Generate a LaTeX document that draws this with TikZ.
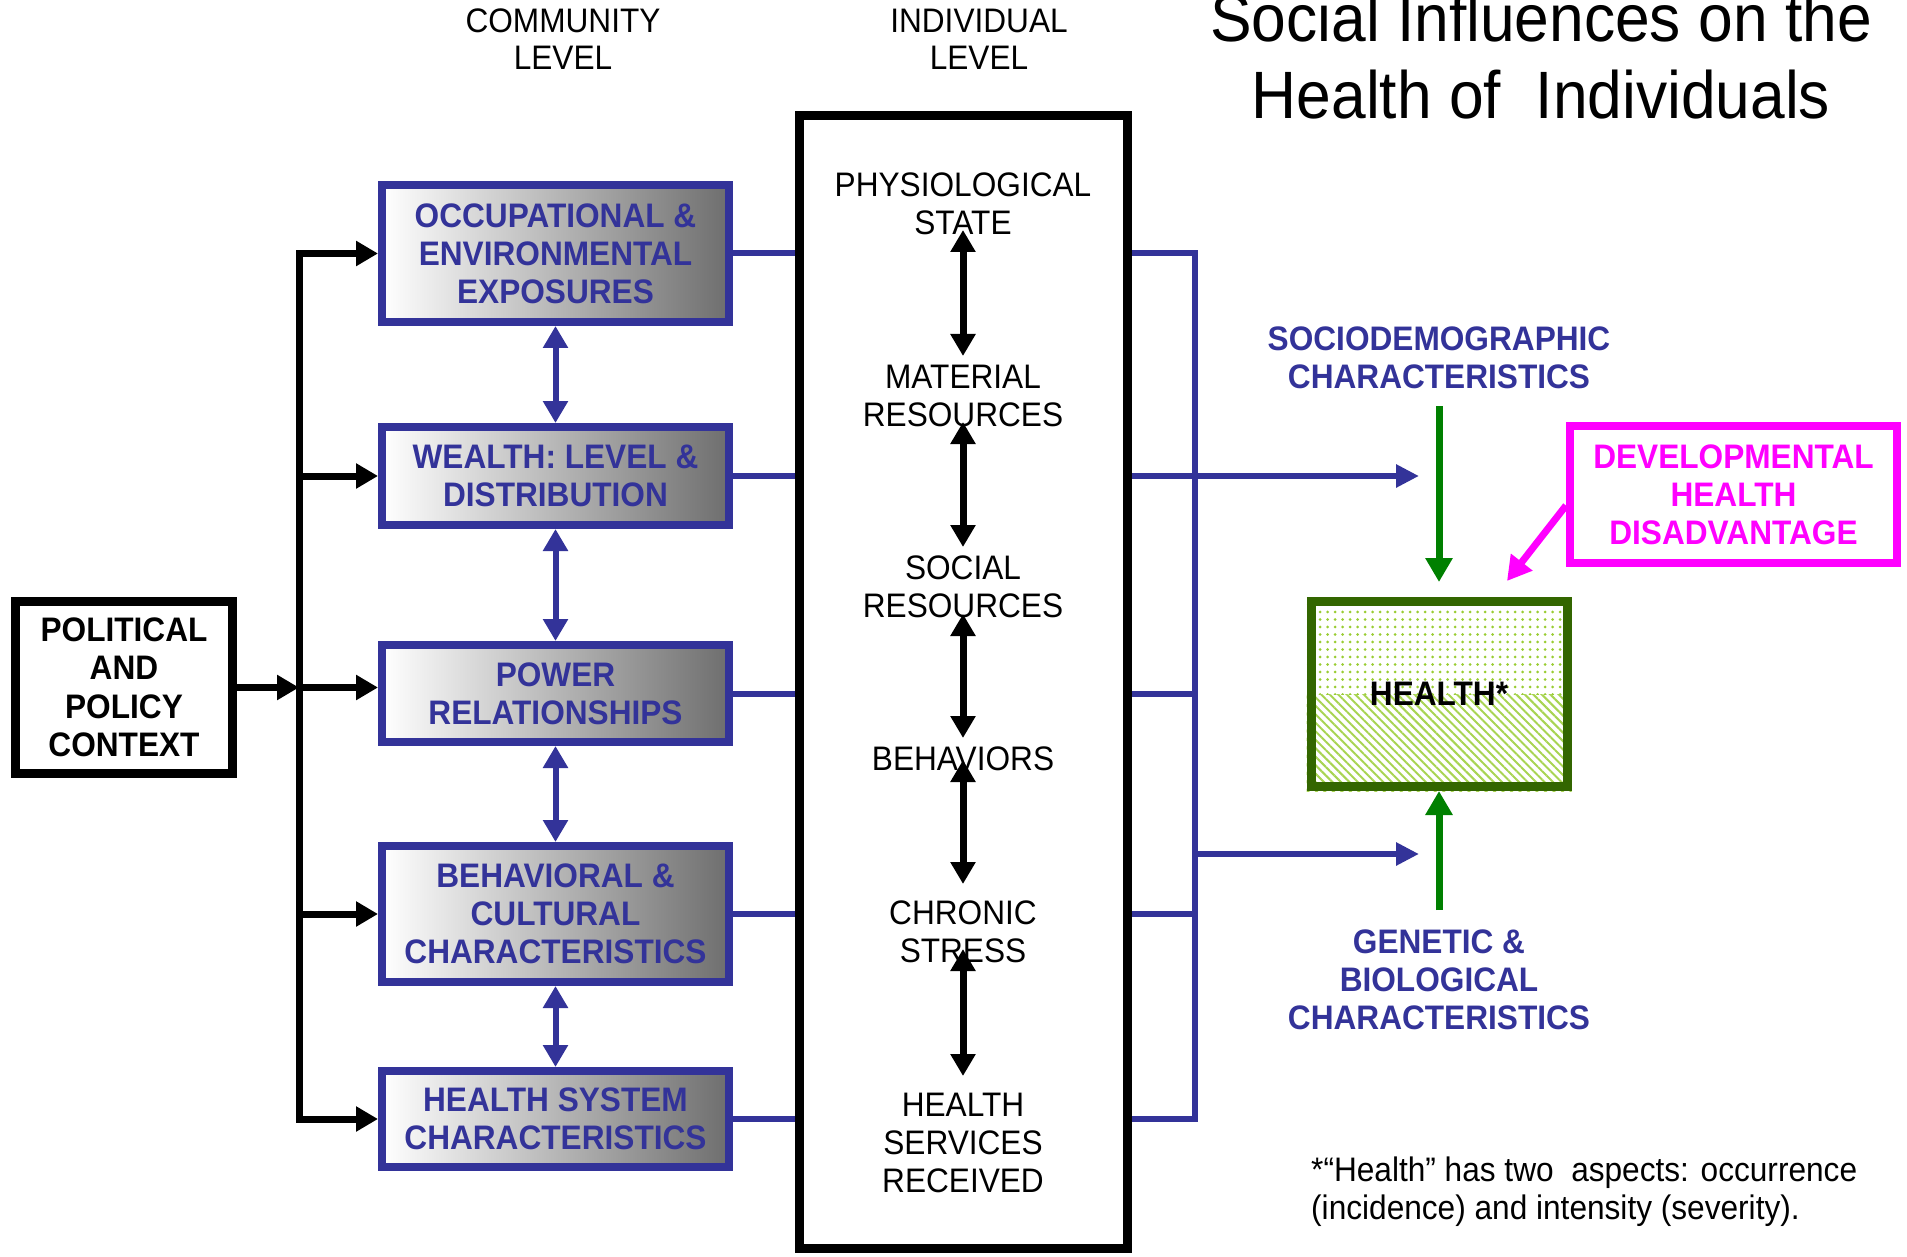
\documentclass[tikz,border=0pt]{standalone}
\usepackage{fontspec}
\setmainfont[FakeStretch=0.93]{Liberation Sans}
\usetikzlibrary{arrows.meta,patterns.meta,calc,backgrounds}
\definecolor{cblue}{HTML}{333399}
\definecolor{cgreen}{HTML}{008000}
\definecolor{hgreen}{HTML}{336600}
\definecolor{lgreen}{HTML}{99CC33}
\definecolor{cmag}{HTML}{FF00FF}
\definecolor{cgray}{HTML}{6E6E6E}
\begin{document}
\begin{tikzpicture}[x=1pt,y=-1pt,
  txt/.style={font=\fontsize{34}{38}\selectfont, align=center, inner sep=0pt},
  btxt/.style={font=\fontsize{34}{38}\selectfont\bfseries, align=center, inner sep=0pt},
  commbox/.style={draw=cblue, line width=8pt, left color=white, right color=cgray,
    text=cblue, font=\fontsize{34}{38}\selectfont\bfseries, align=center,
    inner sep=0pt, minimum width=347pt},
  blkline/.style={draw=black, line width=7pt, line cap=rect},
  blkarrow/.style={draw=black, line width=7pt, -{Triangle[length=22pt,width=24pt]}},
  blkdbl/.style={draw=black, line width=7pt, {Triangle[length=22pt,width=24pt]}-{Triangle[length=22pt,width=24pt]}},
  blueline/.style={draw=cblue, line width=6pt},
  bluearrow/.style={draw=cblue, line width=6pt, -{Triangle[length=23pt,width=22pt]}},
  bluedbl/.style={draw=cblue, line width=6pt, {Triangle[length=22pt,width=24pt]}-{Triangle[length=22pt,width=24pt]}},
  greenarrow/.style={draw=cgreen, line width=7pt, -{Triangle[length=24pt,width=26pt]}},
  magarrow/.style={draw=cmag, line width=7pt, -{Triangle[length=24pt,width=26pt]}}
]
\path[use as bounding box] (0,0) rectangle (1907,1257);

% title and headers
\node[font=\fontsize{67}{77}\selectfont, align=center, inner sep=0pt] (title) at (1541,56.5)
  {Social Influences on the\\Health of\ \ Individuals};
\node[font=\fontsize{34}{37}\selectfont, align=center, inner sep=0pt] (hcomm) at (563,39) {COMMUNITY\\LEVEL};
\node[font=\fontsize{34}{37}\selectfont, align=center, inner sep=0pt] (hind) at (979,39) {INDIVIDUAL\\LEVEL};

% political box
\node[draw=black, line width=9pt, minimum width=217pt, minimum height=172pt, inner sep=0pt,
  font=\fontsize{34}{38.5}\selectfont\bfseries, align=center] (pol) at (124,687.5)
  {POLITICAL\\AND\\POLICY\\CONTEXT};

% community boxes
\node[commbox, minimum height=137pt] (occ) at (555.5,253.5) {OCCUPATIONAL \&\\ENVIRONMENTAL\\EXPOSURES};
\node[commbox, minimum height=98pt] (wealth) at (555.5,476) {WEALTH: LEVEL \&\\DISTRIBUTION};
\node[commbox, minimum height=97pt] (power) at (555.5,693.5) {POWER\\RELATIONSHIPS};
\node[commbox, minimum height=136pt] (behav) at (555.5,914) {BEHAVIORAL \&\\CULTURAL\\CHARACTERISTICS};
\node[commbox, minimum height=96pt] (hsys) at (555.5,1119) {HEALTH SYSTEM\\CHARACTERISTICS};

% individual box
\node[draw=black, line width=9pt, minimum width=328pt, minimum height=1133pt, inner sep=0pt] (indiv) at (963.5,682) {};
\node[txt] (phys) at (963,203.5) {PHYSIOLOGICAL\\STATE};
\node[txt] (mat) at (963,396) {MATERIAL\\RESOURCES};
\node[txt] (soc) at (963,587) {SOCIAL\\RESOURCES};
\node[txt] (beh) at (963,759) {BEHAVIORS};
\node[txt] (chr) at (963,932) {CHRONIC\\STRESS};
\node[txt] (hs) at (963,1142.5) {HEALTH\\SERVICES\\RECEIVED};

\draw[blkdbl, shorten <=26.5pt, shorten >=40pt] (phys.center) -- (mat.center);
\draw[blkdbl, shorten <=26pt, shorten >=40pt] (mat.center) -- (soc.center);
\draw[blkdbl, shorten <=27pt, shorten >=21pt] (soc.center) -- (beh.center);
\draw[blkdbl, shorten <=1pt, shorten >=48pt] (beh.center) -- (chr.center);
\draw[blkdbl, shorten <=17pt, shorten >=66.5pt] (chr.center) -- (hs.center);

% left black distribution
\coordinate (lv) at (299,0);
\draw[blkline] (lv |- occ) -- (lv |- hsys);
\draw[blkarrow] (pol.east) -- (lv |- pol);
\draw[blkarrow] (lv |- occ) -- (occ.west);
\draw[blkarrow] (lv |- wealth) -- (wealth.west);
\draw[blkarrow] (lv |- pol) -- (power.west |- pol);
\draw[blkarrow] (lv |- behav) -- (behav.west);
\draw[blkarrow] (lv |- hsys) -- (hsys.west);

% blue double arrows between community boxes
\draw[bluedbl] (occ.south) -- (wealth.north);
\draw[bluedbl] (wealth.south) -- (power.north);
\draw[bluedbl] (power.south) -- (behav.north);
\draw[bluedbl] (behav.south) -- (hsys.north);

% blue lines community -> individual
\draw[blueline] (occ.east) -- (occ.east -| indiv.west);
\draw[blueline] (wealth.east) -- (wealth.east -| indiv.west);
\draw[blueline] (power.east) -- (power.east -| indiv.west);
\draw[blueline] (behav.east) -- (behav.east -| indiv.west);
\draw[blueline] (hsys.east) -- (hsys.east -| indiv.west);

% right blue bracket
\coordinate (rv) at (1195,0);
\coordinate (tipA) at (1419,0);
\coordinate (tipB) at (1419,854);
\draw[blueline, line join=miter] (indiv.east |- occ) -- (rv |- occ) -- (rv |- hsys) -- (indiv.east |- hsys);
\draw[blueline] (indiv.east |- power) -- (rv |- power);
\draw[blueline] (indiv.east |- behav) -- (rv |- behav);
\draw[bluearrow] (indiv.east |- wealth) -- (tipA |- wealth);
\draw[bluearrow] (rv |- tipB) -- (tipB);

% health box
\node[draw=hgreen, line width=9pt, minimum width=256pt, minimum height=185pt, inner sep=0pt,
  font=\fontsize{34}{38}\selectfont\bfseries] (health) at (1439,694) {HEALTH*};
\begin{scope}[on background layer]
  \fill[pattern={Dots[distance=7.5pt,radius=1.5pt]}, pattern color=lgreen] (health.north west) rectangle (health.east);
  \fill[pattern={Lines[angle=-45,distance=6pt,line width=2pt]}, pattern color=lgreen!85] (health.west) rectangle (health.south east);
\end{scope}

\node[btxt, text=cblue] (socio) at (1439,358) {SOCIODEMOGRAPHIC\\CHARACTERISTICS};
\node[btxt, text=cblue] (genet) at (1439,980) {GENETIC \&\\BIOLOGICAL\\CHARACTERISTICS};
\coordinate (g1) at (1439,406);
\coordinate (g2) at (1439,910);
\draw[greenarrow, shorten >=15pt] (g1) -- (health.north);
\draw[greenarrow] (g2) -- (health.south);

% developmental box
\node[draw=cmag, line width=8pt, minimum width=327pt, minimum height=137pt, inner sep=0pt,
  text=cmag, font=\fontsize{34}{38}\selectfont\bfseries, align=center] (dev) at (1733.5,494.5)
  {DEVELOPMENTAL\\HEALTH\\DISADVANTAGE};
\coordinate (mtip) at (1507,581);
\draw[magarrow] ($(dev.west)+(0,11)$) -- (mtip);

% footnote
\node[font=\fontsize{34}{38}\selectfont, align=left, inner sep=0pt, anchor=west] (foot) at (1311,1192)
  {*“Health” has two\ \ aspects: occurrence\\(incidence) and intensity (severity).};
\end{tikzpicture}
\end{document}
